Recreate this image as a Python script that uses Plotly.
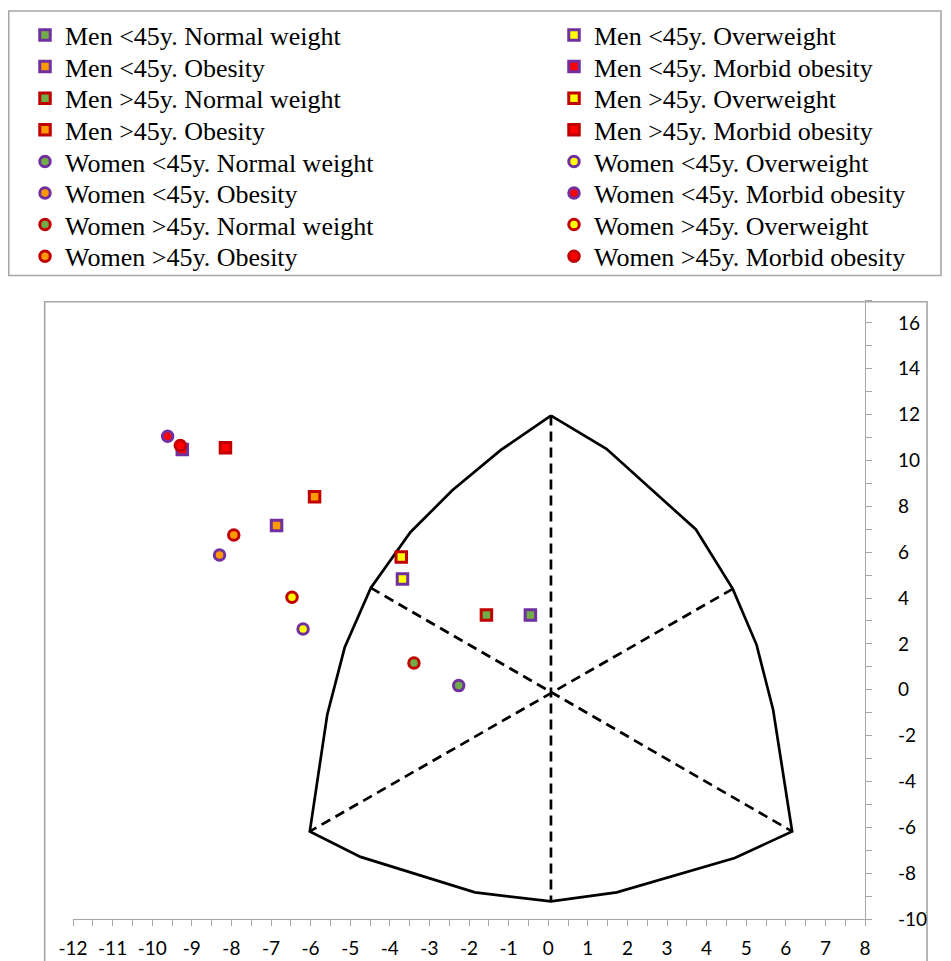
import plotly.graph_objects as go

# ---------------- data ----------------
weight_classes = ["Normal weight", "Overweight", "Obesity", "Morbid obesity"]
groups = ["Men <45y.", "Men >45y.", "Women <45y.", "Women >45y."]

men_lt45_x = [-0.45, -3.68, -6.86, -9.24]
men_lt45_y = [3.26, 4.83, 7.16, 10.48]
men_gt45_x = [-1.56, -3.71, -5.90, -8.15]
men_gt45_y = [3.26, 5.79, 8.42, 10.55]
women_lt45_x = [-2.26, -6.19, -8.30, -9.61]
women_lt45_y = [0.18, 2.65, 5.88, 11.06]
women_gt45_x = [-3.39, -6.47, -7.94, -9.29]
women_gt45_y = [1.17, 4.03, 6.75, 10.65]

outline_x = [0.07, 1.47, 3.73, 4.66, 5.26, 5.68, 6.16, 4.71, 1.73, 0.07, -1.85,
             -4.74, -6.02, -5.58, -5.14, -4.48, -3.48, -2.42, -1.20, 0.07]
outline_y = [11.96, 10.51, 6.99, 4.40, 1.97, -0.87, -6.18, -7.34, -8.84, -9.23, -8.84,
             -7.29, -6.18, -1.09, 1.84, 4.44, 6.87, 8.70, 10.45, 11.96]

axes_x = [0.07, 0.07, None, -4.48, 6.16, None, 4.66, -6.02]
axes_y = [11.96, -9.23, None, 4.44, -6.18, None, 4.40, -6.18]

x_tick_vals = [-12, -11, -10, -9, -8, -7, -6, -5, -4, -3, -2, -1, 0, 1, 2, 3, 4, 5, 6, 7, 8]
x_tick_labels = ["-12", "-11", "-10", "-9", "-8", "-7", "-6", "-5", "-4", "-3", "-2",
                 "-1", "0", "1", "2", "3", "4", "5", "6", "7", "8"]
y_tick_vals = [-10, -8, -6, -4, -2, 0, 2, 4, 6, 8, 10, 12, 14, 16]
y_tick_labels = ["-10", "-8", "-6", "-4", "-2", "0", "2", "4", "6", "8", "10", "12", "14", "16"]

# ---------------- styles ----------------
group_x = [men_lt45_x, men_gt45_x, women_lt45_x, women_gt45_x]
group_y = [men_lt45_y, men_gt45_y, women_lt45_y, women_gt45_y]
group_symbol = ["square", "square", "circle", "circle"]
group_border = ["#7030A0", "#C00000", "#7030A0", "#C00000"]
class_fill = ["#70AD47", "#FFFF00", "#FF9900", "#FF0000"]

# page body has an 8px margin: work in window pixels, convert to figure pixels
OFF = 8
WIN_W, WIN_H = 951, 961
W, H = WIN_W - OFF, WIN_H - OFF
# plot area in window pixels
PA_L, PA_R, PA_T, PA_B = 73, 865, 300, 919
M_L = PA_L - OFF
M_R = W - (PA_R - OFF)
M_T = PA_T - OFF
M_B = H - (PA_B - OFF)
PW = W - M_L - M_R
PH = H - M_T - M_B


def px_x(px):
    return (px - OFF - M_L) / PW


def px_y(py):
    return (H - M_B - (py - OFF)) / PH


LEG_FONT = 26
GRAY = "#A6A6A6"

fig = go.Figure()

fig.add_trace(go.Scatter(x=outline_x, y=outline_y, mode="lines",
                         line=dict(color="black", width=2.7), showlegend=False,
                         hoverinfo="skip"))
fig.add_trace(go.Scatter(x=axes_x, y=axes_y, mode="lines",
                         line=dict(color="black", width=2.7, dash="10px,6px"),
                         showlegend=False, hoverinfo="skip"))

legends = {}
k = 0
for g in range(4):
    for c in range(4):
        name = f"{groups[g]} {weight_classes[c]}"
        leg_id = "legend" if k == 0 else f"legend{k + 1}"
        fig.add_trace(go.Scatter(
            x=[group_x[g][c]], y=[group_y[g][c]], mode="markers", name=name,
            legend=leg_id,
            marker=dict(symbol=group_symbol[g], size=10.5, color=class_fill[c],
                        line=dict(color=group_border[g], width=3)),
        ))
        row, col = k // 2, k % 2
        item_h = LEG_FONT * 1.3 + 3
        top_px = 35 + row * 31.6 - (5 + item_h / 2)
        left_px = 25 + col * 529
        legends[leg_id] = dict(
            x=px_x(left_px), y=px_y(top_px), xanchor="left", yanchor="top",
            bgcolor="rgba(0,0,0,0)", borderwidth=0,
            font=dict(family="Liberation Serif", size=LEG_FONT, color="#000000"),
        )
        k += 1

fig.update_layout(**legends)

tick_font = dict(family="Lato", size=19, color="#000000")

fig.update_layout(
    width=W, height=H,
    margin=dict(l=M_L, r=M_R, t=M_T, b=M_B, pad=0, autoexpand=False),
    paper_bgcolor="white", plot_bgcolor="white",
    xaxis=dict(range=[-12, 8], showgrid=False, zeroline=False,
               showline=True, linecolor=GRAY, linewidth=1.3,
               tickmode="array", tickvals=x_tick_vals, ticktext=x_tick_labels,
               ticks="outside", ticklen=6, tickwidth=1.3, tickcolor=GRAY,
               tickangle=0, tickfont=tick_font, ticklabelstandoff=6,
               minor=dict(tickmode="linear", tick0=0, dtick=0.5, ticks="outside",
                          ticklen=6, tickwidth=1.3, tickcolor=GRAY, showgrid=False)),
    yaxis=dict(range=[-10, 17], side="right", showgrid=False, zeroline=False,
               showline=True, linecolor=GRAY, linewidth=1.3,
               tickmode="array", tickvals=y_tick_vals, ticktext=y_tick_labels,
               ticks="outside", ticklen=6, tickwidth=1.3, tickcolor=GRAY,
               tickfont=tick_font, ticklabelstandoff=22,
               minor=dict(tickmode="linear", tick0=0, dtick=1, ticks="outside",
                          ticklen=6, tickwidth=1.3, tickcolor=GRAY, showgrid=False)),
    shapes=[
        # chart box
        dict(type="rect", xref="paper", yref="paper", layer="below",
             x0=px_x(44.7), x1=px_x(927), y0=px_y(965), y1=px_y(301.7),
             line=dict(color=GRAY, width=1.6), fillcolor="rgba(0,0,0,0)"),
        # legend box
        dict(type="rect", xref="paper", yref="paper", layer="below",
             x0=px_x(8.7), x1=px_x(941), y0=px_y(275.5), y1=px_y(11),
             line=dict(color=GRAY, width=1.6), fillcolor="rgba(0,0,0,0)"),
    ],
)

fig.write_html("out.html")
